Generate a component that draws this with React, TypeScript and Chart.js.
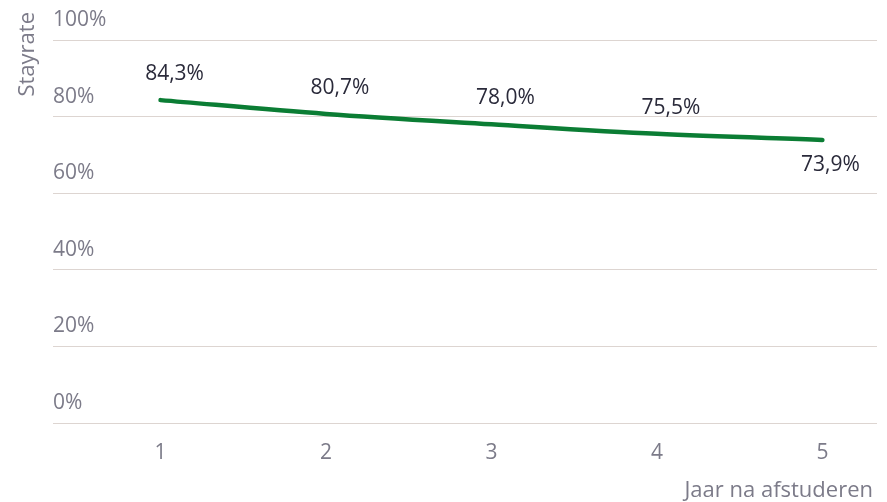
import React, { useEffect, useRef } from "react";
import { Chart, registerables } from "chart.js";

Chart.register(...registerables);

const years = [1, 2, 3, 4, 5];
const stayrate = [84.3, 80.7, 78.0, 75.5, 73.9];
const yTicks = [0, 20, 40, 60, 80, 100];
const yTitle = "Stayrate";
const xTitle = "Jaar na afstuderen";

const FONT = "'Open Sans', 'Noto Sans', sans-serif";
const GRAY = "#7c7b89";
const DARK = "#2a2a3a";
const GREEN = "#0b7d34";

const fmt = (v: number) => v.toFixed(1).replace(".", ",") + "%";

const overlay = {
  id: "overlay",
  afterDatasetsDraw(chart: any) {
    const ctx = chart.ctx;
    const meta = chart.getDatasetMeta(0);
    ctx.save();
    ctx.font = `21px ${FONT}`;
    ctx.fillStyle = DARK;
    ctx.textAlign = "center";
    ctx.textBaseline = "middle";
    meta.data.forEach((pt: any, i: number) => {
      const last = i === meta.data.length - 1;
      const x = pt.x + (last ? 8 : 14);
      const y = pt.y + (last ? 25 : -26);
      ctx.fillText(fmt(stayrate[i]), x, y);
    });
    ctx.fillStyle = GRAY;
    ctx.font = `22px ${FONT}`;
    ctx.textAlign = "right";
    ctx.fillText(xTitle, chart.chartArea.right - 4, 491);
    ctx.translate(28, 12);
    ctx.rotate(-Math.PI / 2);
    ctx.textAlign = "right";
    ctx.fillText(yTitle, 0, 0);
    ctx.restore();
  },
};

export default function App() {
  const ref = useRef<HTMLCanvasElement>(null);
  useEffect(() => {
    if (!ref.current) return;
    const chart = new Chart(ref.current, {
      type: "line",
      data: {
        datasets: [
          {
            data: years.map((y, i) => ({ x: y, y: stayrate[i] })),
            borderColor: GREEN,
            borderWidth: 4.5,
            borderCapStyle: "round",
            cubicInterpolationMode: "monotone",
            pointRadius: 0,
            fill: false,
          },
        ],
      },
      options: {
        responsive: false,
        animation: false,
        layout: { padding: { left: 53, right: 10, top: 40, bottom: 0 } },
        plugins: { legend: { display: false }, tooltip: { enabled: false } },
        scales: {
          x: {
            type: "linear",
            min: 0.35,
            max: 5.33,
            afterBuildTicks: (s: any) => {
              s.ticks = years.map((v) => ({ value: v }));
            },
            afterFit: (s: any) => {
              s.height = 79;
            },
            grid: { display: false, drawTicks: false },
            border: { display: false },
            ticks: {
              padding: 17,
              color: GRAY,
              font: { family: FONT, size: 21 },
              callback: (v: any) => String(v),
            },
          },
          y: {
            min: 0,
            max: 100,
            afterBuildTicks: (s: any) => {
              s.ticks = yTicks.map((v) => ({ value: v }));
            },
            afterFit: (s: any) => {
              s.width = 0;
            },
            grid: { color: "#ddd5d1", lineWidth: 1, drawTicks: false },
            border: { display: false },
            ticks: {
              mirror: true,
              padding: 0,
              labelOffset: -20,
              color: GRAY,
              font: { family: FONT, size: 21 },
              callback: (v: any) => v + "%",
            },
          },
        },
      },
      plugins: [overlay],
    });
    return () => chart.destroy();
  }, []);
  return (
    <div style={{ position: "fixed", left: 0, top: 0, width: 887, height: 502, background: "#fff" }}>
      <canvas ref={ref} width={887} height={502} />
    </div>
  );
}
